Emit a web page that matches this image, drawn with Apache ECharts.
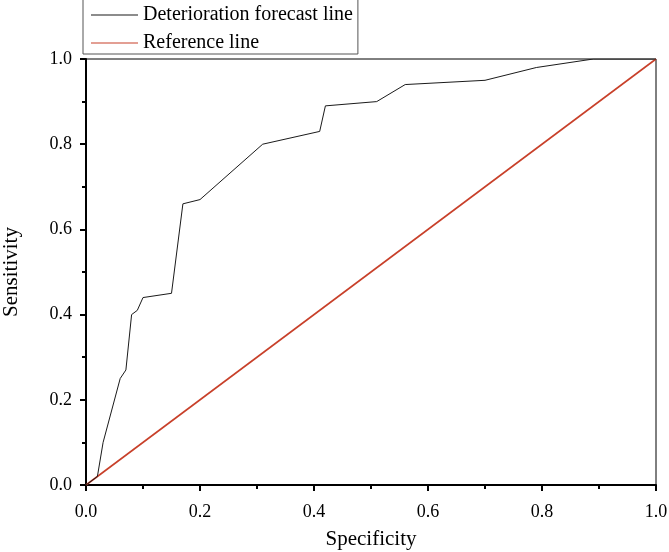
<!DOCTYPE html>
<html>
<head>
<meta charset="utf-8">
<script src="https://cdn.jsdelivr.net/npm/echarts@6/dist/echarts.min.js"></script>
<style>html,body{margin:0;padding:0;background:#fff}#c{width:669px;height:552px}</style>
</head>
<body>
<div id="c"></div>
<script>
const specificity = [0, 0.02, 0.03, 0.06, 0.07, 0.08, 0.09, 0.10, 0.15, 0.17, 0.20, 0.31, 0.41, 0.42, 0.51, 0.56, 0.70, 0.79, 0.89, 1.0];
const sensitivity = [0, 0.02, 0.10, 0.25, 0.27, 0.40, 0.41, 0.44, 0.45, 0.66, 0.67, 0.80, 0.83, 0.89, 0.90, 0.94, 0.95, 0.98, 1.0, 1.0];
const refX = [0, 1];
const refY = [0, 1];
const seriesNames = ['Deterioration forecast line', 'Reference line'];
const xTitle = 'Specificity';
const yTitle = 'Sensitivity';

const font = '"Liberation Serif", "Times New Roman", serif';
const chart = echarts.init(document.getElementById('c'), null, {renderer: 'canvas'});
const axisCommon = {
  type: 'value', min: 0, max: 1, interval: 0.2,
  nameLocation: 'middle',
  nameTextStyle: {fontFamily: font, fontSize: 21, color: '#000'},
  axisLine: {show: true, onZero: false, lineStyle: {color: '#000', width: 2}},
  axisTick: {show: true, inside: false, length: 6, lineStyle: {color: '#000', width: 2}},
  minorTick: {show: true, splitNumber: 2, length: 4, lineStyle: {color: '#000', width: 2}},
  splitLine: {show: false},
  axisLabel: {fontFamily: font, fontSize: 18, color: '#000', formatter: v => v.toFixed(1)}
};
chart.setOption({
  animation: false,
  grid: {left: 86, right: 13, top: 59, bottom: 67, show: true, borderColor: '#000', borderWidth: 1,
         containLabel: false, outerBoundsMode: 'none'},
  legend: {
    left: 83, top: -1, orient: 'vertical',
    data: seriesNames,
    icon: 'rect', itemWidth: 47, itemHeight: 1, itemGap: 8,
    borderColor: '#555', borderWidth: 1, padding: [6, 5, 1, 8],
    textStyle: {fontFamily: font, fontSize: 20, color: '#000'}
  },
  xAxis: Object.assign({}, axisCommon, {name: xTitle, nameGap: 44, axisLabel: Object.assign({}, axisCommon.axisLabel, {margin: 18})}),
  yAxis: Object.assign({}, axisCommon, {name: yTitle, nameGap: 64, axisLabel: Object.assign({}, axisCommon.axisLabel, {margin: 14})}),
  series: [
    {name: seriesNames[0], type: 'line', symbol: 'none', z: 3,
     data: specificity.map((x, i) => [x, sensitivity[i]]),
     lineStyle: {color: '#1a1a1a', width: 1}, itemStyle: {color: '#1a1a1a'}},
    {name: seriesNames[1], type: 'line', symbol: 'none', z: 2,
     data: refX.map((x, i) => [x, refY[i]]),
     lineStyle: {color: '#c8402a', width: 1.6}, itemStyle: {color: '#c8402a'}}
  ]
});
</script>
</body>
</html>
